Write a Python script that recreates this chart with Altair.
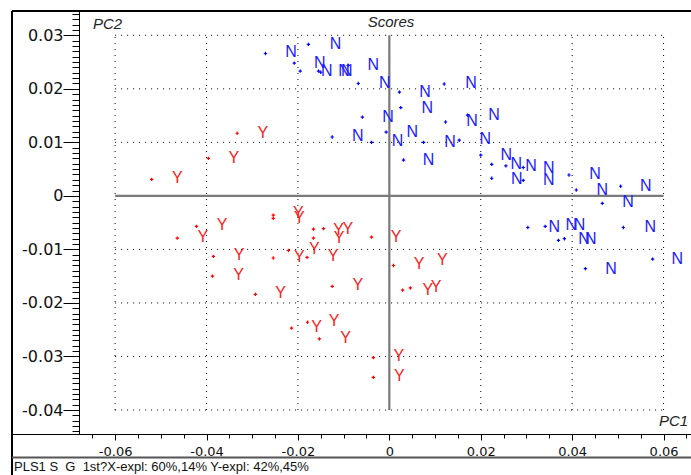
import altair as alt
import pandas as pd

# ---- data (PC1, PC2) ----
blue_dot_x = [-0.0271, -0.0208, -0.0195, -0.0177, -0.0155, -0.0150, -0.0090, -0.0068, 0.0022, 0.0025,
              -0.0059, -0.0125, -0.0007, -0.0039, 0.0120, 0.0123, 0.0171, 0.0075, 0.0153, 0.0031,
              0.0200, 0.0224, 0.0255, 0.0293, 0.0224, 0.0293, 0.0393, 0.0409, 0.0506, 0.0466,
              0.0303, 0.0341, 0.0370, 0.0383, 0.0512, 0.0576, 0.0429]
blue_dot_y = [0.0266, 0.0248, 0.0233, 0.0283, 0.0233, 0.0231, 0.0244, 0.0210, 0.0194, 0.0165,
              0.0147, 0.0110, 0.0119, 0.0100, 0.0209, 0.0138, 0.0151, 0.0100, 0.0104, 0.0067,
              0.0076, 0.0059, 0.0056, 0.0053, 0.0033, 0.0029, 0.0039, 0.0011, 0.0018, -0.0014,
              -0.0059, -0.0057, -0.0083, -0.0080, -0.0059, -0.0118, -0.0136]

n_x = [-0.0215, -0.0118, -0.0152, -0.0137, -0.0099, -0.0093, -0.0035, -0.0010, -0.0003, -0.0069,
       0.0018, 0.0050, 0.0078, 0.0179, 0.0083, 0.0181, 0.0229, 0.0133, 0.0210, 0.0086,
       0.0256, 0.0278, 0.0310, 0.0279, 0.0349, 0.0349, 0.0450, 0.0466, 0.0561, 0.0522,
       0.0361, 0.0398, 0.0416, 0.0426, 0.0441, 0.0571, 0.0630, 0.0485]
n_y = [0.0268, 0.0284, 0.0249, 0.0234, 0.0234, 0.0233, 0.0245, 0.0211, 0.0148, 0.0111,
       0.0102, 0.0120, 0.0195, 0.0210, 0.0165, 0.0139, 0.0151, 0.0101, 0.0106, 0.0067,
       0.0077, 0.0060, 0.0056, 0.0032, 0.0053, 0.0030, 0.0040, 0.0011, 0.0019, -0.0012,
       -0.0058, -0.0055, -0.0055, -0.0081, -0.0081, -0.0058, -0.0117, -0.0136]

red_dot_x = [-0.0520, -0.0396, -0.0333, -0.0422, -0.0464, -0.0254, -0.0254, -0.0221, -0.0254, -0.0385,
             -0.0387, -0.0180, -0.0166, -0.0144, -0.0166, -0.0039, -0.0125, 0.0009, 0.0029, 0.0046,
             -0.0293, -0.0214, -0.0179, -0.0153, -0.0035, -0.0035]
red_dot_y = [0.0031, 0.0070, 0.0117, -0.0057, -0.0079, -0.0036, -0.0042, -0.0102, -0.0116, -0.0113,
             -0.0150, -0.0115, -0.0062, -0.0061, -0.0079, -0.0077, -0.0169, -0.0130, -0.0176, -0.0172,
             -0.0184, -0.0247, -0.0236, -0.0267, -0.0302, -0.0339]

y_x = [-0.0464, -0.0340, -0.0277, -0.0366, -0.0408, -0.0199, -0.0197, -0.0329, -0.0197, -0.0330,
       -0.0111, -0.0091, -0.0110, -0.0164, -0.0123, 0.0015, -0.0238, -0.0069, 0.0065, 0.0116,
       0.0084, 0.0102, -0.0159, -0.0121, -0.0096, 0.0021, 0.0022]
y_y = [0.0033, 0.0070, 0.0118, -0.0055, -0.0077, -0.0032, -0.0041, -0.0111, -0.0115, -0.0147,
       -0.0063, -0.0062, -0.0078, -0.0099, -0.0113, -0.0076, -0.0182, -0.0167, -0.0128, -0.0120,
       -0.0175, -0.0171, -0.0245, -0.0234, -0.0266, -0.0299, -0.0337]

x_ticks = [-0.06, -0.04, -0.02, 0, 0.02, 0.04, 0.06]
y_ticks = [0.03, 0.02, 0.01, 0, -0.01, -0.02, -0.03, -0.04]
x_minor = [round(i * 0.005, 3) for i in range(-13, 14) if i % 4 != 0]
y_minor = [round(i * 0.001, 3) for i in range(-44, 35) if i % 10 != 0]

title_text = "Scores"
footer_text = "PLS1 S\u00a0 G\u00a0 1st?X-expl: 60%,14% Y-expl: 42%,45%"

XDOM = [-0.0679, 0.0660]
YDOM = [-0.04448, 0.03454]
W, H = 612, 423

xs = alt.Scale(domain=XDOM, nice=False, zero=False)
ys = alt.Scale(domain=YDOM, nice=False, zero=False)

FONT = "Liberation Sans"

x_major_axis = alt.Axis(values=x_ticks, labelExpr="'' + datum.value", tickSize=6, tickColor="black",
                        tickWidth=1, domain=False, grid=False, labelFont="DejaVu Sans", labelFontSize=13,
                        labelColor="#111", labelPadding=5, labelFlush=False, labelOverlap=False,
                        orient="bottom", title="PC1", titleX=594, titleY=-14, titleAngle=0,
                        titleAlign="center", titleBaseline="middle", titleFont=FONT,
                        titleFontStyle="italic", titleFontWeight="normal", titleFontSize=15,
                        titleColor="#222")
y_major_axis = alt.Axis(values=y_ticks, labelExpr="'' + datum.value", tickSize=16, tickColor="black",
                        tickWidth=1, domain=True, domainColor="black", domainWidth=1, grid=False,
                        labelFont="DejaVu Sans", labelFontSize=16, labelColor="#111", labelPadding=0,
                        labelFlush=False, labelOverlap=False, orient="left",
                        title="PC2", titleX=28, titleY=12, titleAngle=0, titleAlign="center",
                        titleBaseline="middle", titleFont=FONT, titleFontStyle="italic",
                        titleFontWeight="normal", titleFontSize=15, titleColor="#222")
x_minor_axis = alt.Axis(values=x_minor, labels=False, tickSize=4, tickColor="black", tickWidth=1,
                        domain=False, grid=False, title=None, orient="bottom")
y_minor_axis = alt.Axis(values=y_minor, labels=False, tickSize=7, tickColor="black", tickWidth=1,
                        domain=False, grid=False, title=None, orient="left")

one = pd.DataFrame({"a": [0]})

# dotted grid
gv = pd.DataFrame({"gx": x_ticks, "y1": [y_ticks[-1]] * len(x_ticks), "y2": [y_ticks[0]] * len(x_ticks)})
gh = pd.DataFrame({"gy": [v for v in y_ticks if v != 0]})
gh["x1"] = x_ticks[0]
gh["x2"] = x_ticks[-1]

grid_v = alt.Chart(gv).mark_rule(color="black", strokeWidth=1, strokeDash=[1, 5]).encode(
    x=alt.X("gx:Q", scale=xs, axis=x_major_axis),
    y=alt.Y("y1:Q", scale=ys, axis=y_major_axis),
    y2="y2:Q",
)
grid_h = alt.Chart(gh).mark_rule(color="black", strokeWidth=1, strokeDash=[1, 5]).encode(
    x=alt.X("x1:Q", scale=xs, axis=x_minor_axis),
    x2="x2:Q",
    y=alt.Y("gy:Q", scale=ys, axis=y_minor_axis),
)

zv = pd.DataFrame({"zx": [0], "y1": [y_ticks[-1]], "y2": [y_ticks[0]]})
zh = pd.DataFrame({"zy": [0], "x1": [x_ticks[0]], "x2": [x_ticks[-1]]})
zero_v = alt.Chart(zv).mark_rule(color="#7a7a7a", strokeWidth=2.2).encode(
    x=alt.X("zx:Q", scale=xs, axis=None), y=alt.Y("y1:Q", scale=ys, axis=None), y2="y2:Q")
zero_h = alt.Chart(zh).mark_rule(color="#7a7a7a", strokeWidth=2.2).encode(
    x=alt.X("x1:Q", scale=xs, axis=None), x2="x2:Q", y=alt.Y("zy:Q", scale=ys, axis=None))

CROSS = "M-1,0H1M0,-1V1"

def dots(xv, yv, col):
    df = pd.DataFrame({"pc1": xv, "pc2": yv})
    return alt.Chart(df).mark_point(shape=CROSS, filled=False, size=11, strokeWidth=1.2, color=col,
                                    opacity=1).encode(
        x=alt.X("pc1:Q", scale=xs, axis=None), y=alt.Y("pc2:Q", scale=ys, axis=None))

def letters(xv, yv, txt, col):
    df = pd.DataFrame({"pc1": xv, "pc2": yv})
    return alt.Chart(df).mark_text(text=txt, font=FONT, fontSize=16, color=col, align="center",
                                   baseline="middle").encode(
        x=alt.X("pc1:Q", scale=xs, axis=None), y=alt.Y("pc2:Q", scale=ys, axis=None))

blue_dots = dots(blue_dot_x, blue_dot_y, "#0000ff")
red_dots = dots(red_dot_x, red_dot_y, "#ff0000")
n_text = letters(n_x, n_y, "N", "#1a1aff")
y_text = letters(y_x, y_y, "Y", "#f52222")

# frame / decorations (pixel positions relative to the plot area)
top_line = alt.Chart(one).mark_rule(color="black", strokeWidth=2).encode(
    x=alt.value(-67), x2=alt.value(W), y=alt.value(0))
left_line = alt.Chart(one).mark_rule(color="black", strokeWidth=2).encode(
    x=alt.value(-67), y=alt.value(0), y2=alt.value(464))
bottom_line = alt.Chart(one).mark_rule(color="black", strokeWidth=1).encode(
    x=alt.value(-67), x2=alt.value(W), y=alt.value(H + 0.5))
sep_line = alt.Chart(one).mark_rule(color="#555555", strokeWidth=2).encode(
    x=alt.value(-67), x2=alt.value(W), y=alt.value(446.5))

title = alt.Chart(one).mark_text(text=title_text, font=FONT, fontSize=15, fontStyle="italic",
                                 color="#222", align="center", baseline="middle").encode(
    x=alt.value(312), y=alt.value(11))
footer = alt.Chart(one).mark_text(text=footer_text, font=FONT, fontSize=13, color="#111",
                                  align="left", baseline="middle").encode(
    x=alt.value(-65), y=alt.value(456))

chart = alt.layer(
    grid_v, grid_h, zero_v, zero_h, blue_dots, red_dots, n_text, y_text,
    top_line, left_line, bottom_line, sep_line, title, footer,
).resolve_axis(x="independent", y="independent").properties(
    width=W, height=H,
    padding={"left": 79, "top": 11, "right": 0, "bottom": 41},
    autosize=alt.AutoSizeParams(type="none"),
    background="white",
).configure_view(stroke=None)

chart.save("out.html", embed_options={"renderer": "svg", "actions": False})
